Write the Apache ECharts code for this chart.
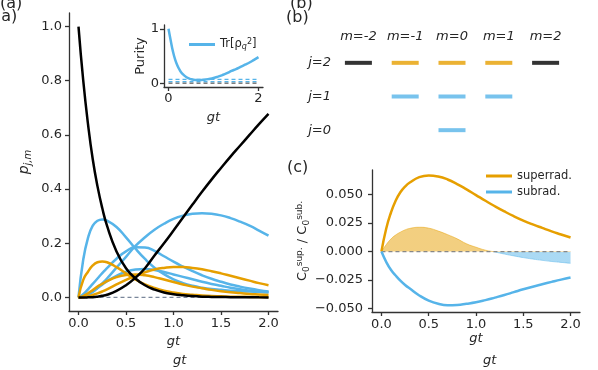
<!DOCTYPE html>
<html>
<head>
<meta charset="utf-8">
<script src="https://cdn.jsdelivr.net/npm/echarts@6/dist/echarts.min.js"></script>
<style>
  html, body { margin: 0; padding: 0; background: #fff; }
  #chart { width: 598px; height: 370px; }
</style>
</head>
<body>
<div id="chart"></div>
<script>
// time grid (gt) shared by every curve
const t = [0, 0.05, 0.1, 0.15, 0.2, 0.25, 0.3, 0.4, 0.5, 0.6, 0.7, 0.8, 0.9, 1.0, 1.1, 1.2, 1.3, 1.4, 1.5, 1.6, 1.7, 1.8, 1.9, 2.0];

// panel (a): populations p_{j,m}
const blackDown = [1, 0.80, 0.64, 0.51, 0.41, 0.33, 0.265, 0.17, 0.108, 0.07, 0.045, 0.029, 0.018, 0.012, 0.008, 0.005, 0.003, 0.002, 0.0015, 0.001, 0.0007, 0.0005, 0.0003, 0.0002];
const blackUp = [0, 0, 0.0003, 0.001, 0.003, 0.006, 0.01, 0.024, 0.045, 0.073, 0.108, 0.155, 0.2, 0.247, 0.295, 0.343, 0.39, 0.435, 0.478, 0.52, 0.56, 0.6, 0.64, 0.678];
const blue1 = [0, 0.14, 0.22, 0.265, 0.283, 0.288, 0.284, 0.26, 0.222, 0.18, 0.142, 0.11, 0.086, 0.067, 0.053, 0.043, 0.036, 0.031, 0.028, 0.025, 0.023, 0.022, 0.021, 0.02];
const blue2 = [0, 0.003, 0.01, 0.02, 0.035, 0.052, 0.07, 0.11, 0.15, 0.19, 0.222, 0.25, 0.272, 0.29, 0.302, 0.309, 0.311, 0.309, 0.303, 0.293, 0.28, 0.265, 0.247, 0.228];
const blue3 = [0, 0.012, 0.03, 0.05, 0.07, 0.09, 0.108, 0.143, 0.17, 0.185, 0.184, 0.172, 0.152, 0.132, 0.114, 0.097, 0.082, 0.069, 0.058, 0.048, 0.04, 0.033, 0.027, 0.022];
const blue4 = [0, 0.004, 0.012, 0.023, 0.035, 0.047, 0.06, 0.08, 0.095, 0.103, 0.105, 0.101, 0.094, 0.085, 0.076, 0.067, 0.058, 0.05, 0.043, 0.036, 0.03, 0.025, 0.021, 0.018];
const orange1 = [0, 0.065, 0.095, 0.118, 0.13, 0.133, 0.13, 0.112, 0.089, 0.066, 0.048, 0.035, 0.025, 0.018, 0.013, 0.01, 0.007, 0.005, 0.004, 0.003, 0.0025, 0.002, 0.0015, 0.001];
const orange2 = [0, 0.005, 0.015, 0.027, 0.04, 0.05, 0.06, 0.075, 0.083, 0.085, 0.082, 0.075, 0.066, 0.057, 0.048, 0.04, 0.034, 0.028, 0.023, 0.019, 0.016, 0.013, 0.011, 0.009];
const orange3 = [0, 0.001, 0.004, 0.009, 0.015, 0.022, 0.03, 0.048, 0.065, 0.08, 0.093, 0.103, 0.109, 0.112, 0.112, 0.109, 0.104, 0.097, 0.089, 0.08, 0.071, 0.062, 0.053, 0.045];

// inset: purity
const purity = [1, 0.78, 0.58, 0.43, 0.32, 0.24, 0.18, 0.11, 0.075, 0.06, 0.058, 0.065, 0.078, 0.095, 0.12, 0.15, 0.185, 0.225, 0.26, 0.3, 0.34, 0.38, 0.43, 0.48];
const purityRefs = [0.07, 0.03];

// panel (c)
const superrad = [0, 0.02, 0.034, 0.0445, 0.052, 0.057, 0.0605, 0.0652, 0.0667, 0.0658, 0.0632, 0.0592, 0.0545, 0.0495, 0.0445, 0.0397, 0.0352, 0.031, 0.0272, 0.0238, 0.0207, 0.0177, 0.015, 0.0123];
const subrad = [0, -0.009, -0.016, -0.021, -0.0255, -0.0293, -0.0325, -0.0385, -0.043, -0.0458, -0.047, -0.0468, -0.0458, -0.0445, -0.0426, -0.0404, -0.0381, -0.0356, -0.0331, -0.0308, -0.0287, -0.0266, -0.0246, -0.0228];
const net = [0, 0.006, 0.011, 0.0145, 0.017, 0.019, 0.0203, 0.0213, 0.0205, 0.018, 0.0148, 0.0112, 0.0068, 0.0038, 0.0012, -0.0004, -0.0022, -0.0038, -0.0053, -0.0066, -0.0077, -0.0087, -0.0095, -0.0103];

// panel (b): level diagram
const mLabels = ['m=-2', 'm=-1', 'm=0', 'm=1', 'm=2'];
const jLabels = ['j=0', 'j=1', 'j=2'];
const blackLevels = [['m=-2', 'j=2'], ['m=2', 'j=2']];
const orangeLevels = [['m=-1', 'j=2'], ['m=0', 'j=2'], ['m=1', 'j=2']];
const blueLevels = [['m=-1', 'j=1'], ['m=0', 'j=1'], ['m=1', 'j=1'], ['m=0', 'j=0']];

// ticks
const tRange = [0, 2];
const xTicks = [0, 0.5, 1, 1.5, 2];
const pTicks = [0, 0.2, 0.4, 0.6, 0.8, 1.0];
const insetXTicks = [0, 2];
const insetYTicks = [0, 1];
const cTicks = [-0.05, -0.025, 0, 0.025, 0.05];

const FONT = 'DejaVu Sans';
const INK = '#262626';
const AX = '#333';
const ORANGE = '#E69F00';
const BLUE = '#56B4E9';

const fmt = (v, d) => (v < 0 ? '\u2212' : '') + Math.abs(v).toFixed(d);

function valAxis(gridIndex, min, max, ticks, digits, margin, extra) {
  return Object.assign({
    type: 'value', gridIndex, min, max,
    axisLine: { show: true, onZero: false, lineStyle: { color: AX, width: 1.3 } },
    axisTick: { show: true, customValues: ticks, length: 4, lineStyle: { color: AX, width: 1.3 } },
    axisLabel: { customValues: ticks, formatter: v => fmt(v, digits), color: INK, fontFamily: FONT, fontSize: 13, margin },
    splitLine: { show: false },
    nameTextStyle: { color: INK, fontFamily: FONT, fontSize: 13 }
  }, extra);
}

function curve(name, idx, ys, color, extra) {
  return Object.assign({
    name, type: 'line', xAxisIndex: idx, yAxisIndex: idx,
    data: t.map((x, i) => [x, ys[i]]),
    symbol: 'none', showSymbol: false, smooth: true,
    lineStyle: { color, width: 2.5 }, itemStyle: { color },
    silent: true
  }, extra);
}

function refLine(idx, y, color) {
  return {
    type: 'line', xAxisIndex: idx, yAxisIndex: idx, symbol: 'none', silent: true,
    data: tRange.map(x => [x, y]),
    lineStyle: { color, width: 1.2, type: [4, 3] }
  };
}

const gtName = (gap) => ({ name: 'gt', nameLocation: 'middle', nameGap: gap,
  nameTextStyle: { color: INK, fontFamily: FONT, fontSize: 13, fontStyle: 'italic' } });

const series = [
  refLine(0, 0, '#7a869a'),
  curve('b1', 0, blue1, BLUE), curve('b2', 0, blue2, BLUE), curve('b3', 0, blue3, BLUE), curve('b4', 0, blue4, BLUE),
  curve('o1', 0, orange1, ORANGE), curve('o2', 0, orange2, ORANGE), curve('o3', 0, orange3, ORANGE),
  curve('k1', 0, blackDown, '#000'), curve('k2', 0, blackUp, '#000'),
  refLine(1, 0, '#555'),
  ...purityRefs.map(v => refLine(1, v, BLUE)),
  curve('purity', 1, purity, BLUE),
  { type: 'scatter', xAxisIndex: 2, yAxisIndex: 2, data: blackLevels, symbol: 'rect', symbolSize: [27, 4], itemStyle: { color: '#000' }, silent: true },
  { type: 'scatter', xAxisIndex: 2, yAxisIndex: 2, data: orangeLevels, symbol: 'rect', symbolSize: [27, 4], itemStyle: { color: ORANGE }, silent: true },
  { type: 'scatter', xAxisIndex: 2, yAxisIndex: 2, data: blueLevels, symbol: 'rect', symbolSize: [27, 4], itemStyle: { color: BLUE }, silent: true },
  curve('net', 3, net, ORANGE, { lineStyle: { width: 1, opacity: 0.5 }, areaStyle: { opacity: 0.5 } }),
  refLine(3, 0, '#888'),
  curve('superrad.', 3, superrad, ORANGE),
  curve('subrad.', 3, subrad, BLUE)
];
const netIndex = series.findIndex(s => s.name === 'net');

const chart = echarts.init(document.getElementById('chart'));
chart.setOption({
  animation: false,
  backgroundColor: '#fff',
  grid: [
    { left: 69, top: 13, width: 209, height: 298 },
    { left: 164, top: 25, width: 99, height: 62 },
    { left: 335, top: 46, width: 234, height: 101 },
    { left: 372, top: 170, width: 208, height: 142 }
  ],
  xAxis: [
    valAxis(0, -0.1, 2.1, xTicks, 1, 6, gtName(22)),
    valAxis(1, -0.1, 2.1, insetXTicks, 0, 5, gtName(24)),
    { type: 'category', gridIndex: 2, data: mLabels, position: 'top', axisLine: { show: false }, axisTick: { show: false },
      axisLabel: { interval: 0, color: INK, fontFamily: FONT, fontSize: 13, fontStyle: 'italic', margin: 3 } },
    valAxis(3, -0.1, 2.1, xTicks, 1, 6, gtName(17))
  ],
  yAxis: [
    valAxis(0, -0.05, 1.05, pTicks, 1, 7, {
      name: '{p|p}{s|j,m}', nameLocation: 'middle', nameGap: 36,
      nameTextStyle: { rich: {
        p: { fontFamily: FONT, fontSize: 14, fontStyle: 'italic', color: INK },
        s: { fontFamily: FONT, fontSize: 10, fontStyle: 'italic', color: INK, verticalAlign: 'bottom', padding: [7, 0, 0, 0] }
      } }
    }),
    valAxis(1, -0.07, 1.07, insetYTicks, 0, 5, { name: 'Purity', nameLocation: 'middle', nameGap: 16 }),
    { type: 'category', gridIndex: 2, data: jLabels, axisLine: { show: false }, axisTick: { show: false },
      axisLabel: { interval: 0, color: INK, fontFamily: FONT, fontSize: 13, fontStyle: 'italic', margin: 4 } },
    valAxis(3, -0.053, 0.0715, cTicks, 3, 9, {
      name: '{c|C}{b|0}{u|sup.}{c| / C}{b|0}{u|sub.}', nameLocation: 'middle', nameGap: 58,
      nameTextStyle: { rich: {
        c: { fontFamily: FONT, fontSize: 13, color: INK },
        b: { fontFamily: FONT, fontSize: 9, color: INK, verticalAlign: 'bottom', padding: [7, 0, 0, 0] },
        u: { fontFamily: FONT, fontSize: 9, color: INK, verticalAlign: 'top', padding: [0, 0, 7, 0] }
      } }
    })
  ],
  legend: [
    { data: ['purity'], left: 184, top: 33, icon: 'rect', itemWidth: 26, itemHeight: 3,
      formatter: () => '{t|Tr[\u03c1}{b|q}{u|2}{t|]}',
      textStyle: { rich: {
        t: { fontFamily: FONT, fontSize: 11.5, color: INK },
        b: { fontFamily: FONT, fontSize: 8, fontStyle: 'italic', color: INK, verticalAlign: 'bottom', padding: [5, 0, 0, 0] },
        u: { fontFamily: FONT, fontSize: 8, color: INK, verticalAlign: 'top', padding: [0, 0, 5, 0] }
      } } },
    { data: ['superrad.', 'subrad.'], orient: 'vertical', left: 481, top: 165, itemGap: 4, icon: 'rect', itemWidth: 26, itemHeight: 3,
      textStyle: { fontFamily: FONT, fontSize: 11.5, color: INK } }
  ],
  visualMap: [{
    show: false, type: 'piecewise', seriesIndex: netIndex, dimension: 1,
    pieces: [{ gt: 0, lte: 0.1, color: ORANGE }, { gt: -0.1, lte: 0, color: BLUE }]
  }],
  graphic: [
    { type: 'text', left: 0, top: -4, style: { text: '(a)', font: '16px "DejaVu Sans"', fill: INK } },
    { type: 'text', left: -5, top: 9, style: { text: '(a)', font: '16px "DejaVu Sans"', fill: INK } },
    { type: 'text', left: 290, top: -4, style: { text: '(b)', font: '16px "DejaVu Sans"', fill: INK } },
    { type: 'text', left: 286, top: 10, style: { text: '(b)', font: '16px "DejaVu Sans"', fill: INK } },
    { type: 'text', left: 287, top: 160, style: { text: '(c)', font: '16px "DejaVu Sans"', fill: INK } },
    { type: 'text', left: 173, top: 354, style: { text: 'gt', font: 'italic 13px "DejaVu Sans"', fill: INK } },
    { type: 'text', left: 483, top: 354, style: { text: 'gt', font: 'italic 13px "DejaVu Sans"', fill: INK } }
  ],
  series
});
</script>
</body>
</html>
